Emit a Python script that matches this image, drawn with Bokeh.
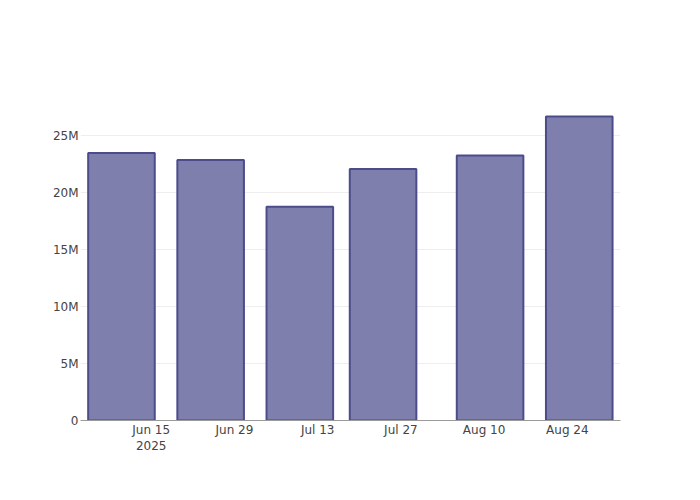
import pandas as pd
from datetime import datetime
from bokeh.plotting import figure
from bokeh.models import Range1d, FixedTicker, DatetimeTickFormatter, CustomJSTickFormatter, ColumnDataSource
from bokeh.embed import file_html
from bokeh.resources import INLINE

# Data
dates = ["2025-06-10", "2025-06-25", "2025-07-10", "2025-07-24", "2025-08-11", "2025-08-26"]
values = [23.48e6, 22.88e6, 18.78e6, 22.09e6, 23.26e6, 26.69e6]
x_tick_dates = ["2025-06-15", "2025-06-29", "2025-07-13", "2025-07-27", "2025-08-10", "2025-08-24"]
y_ticks = [0, 5e6, 10e6, 15e6, 20e6, 25e6]

DAY_MS = 86400000
src = ColumnDataSource(dict(x=pd.to_datetime(dates), top=values))

p = figure(width=684, height=484, output_backend="svg", toolbar_location=None,
           x_axis_type="datetime",
           x_range=Range1d(datetime(2025, 6, 3, 2, 38), datetime(2025, 9, 1, 22, 30)),
           y_range=Range1d(0, 28.1e6),
           min_border_left=80, min_border_right=64, min_border_top=100, min_border_bottom=64)
p.outline_line_color = None
p.background_fill_color = "white"
p.border_fill_color = "white"

p.vbar(x="x", top="top", width=11.2 * DAY_MS, source=src,
       fill_color="#7f7fae", line_color="#4c4c8c", line_width=2)

font = "DejaVu Sans"
xa = p.xaxis[0]
xa.ticker = FixedTicker(ticks=[pd.Timestamp(d).value / 1e6 for d in x_tick_dates])
xa.formatter = DatetimeTickFormatter(days="%b %d", months="%b %d", context="%Y", context_which="start")
xa.axis_line_color = "#9a9a9a"
xa.axis_line_width = 1
xa.major_tick_line_color = None
xa.minor_tick_line_color = None
xa.major_tick_out = 0
xa.major_tick_in = 0
xa.major_label_standoff = 2
xa.major_label_text_font = font
xa.major_label_text_font_size = "12px"
xa.major_label_text_color = "#444444"

ya = p.yaxis[0]
ya.ticker = FixedTicker(ticks=y_ticks)
ya.formatter = CustomJSTickFormatter(code="return tick == 0 ? '0' : (tick / 1e6) + 'M';")
ya.axis_line_color = None
ya.major_tick_line_color = None
ya.minor_tick_line_color = None
ya.major_tick_out = 0
ya.major_tick_in = 0
ya.major_label_standoff = 2
ya.major_label_text_font = font
ya.major_label_text_font_size = "12px"
ya.major_label_text_color = "#444444"

p.xgrid.grid_line_color = None
p.ygrid.grid_line_color = "#eeeeee"
p.ygrid.grid_line_width = 1

open("out.html", "w").write(file_html(p, INLINE))
